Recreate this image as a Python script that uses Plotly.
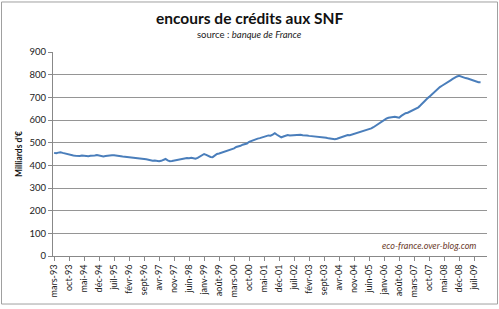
import plotly.graph_objects as go

month_names = ["janv", "févr", "mars", "avr", "mai", "juin",
               "juil", "août", "sept", "oct", "nov", "déc"]

# monthly values, mars-93 .. oct-09 (Milliards d'€)
values = [
    455, 453, 456, 458, 455, 452, 450, 447, 445, 443,            # 1993 (mars-déc)
    442, 440, 441, 443, 441, 439, 440, 442, 441, 443, 445, 442,  # 1994
    440, 439, 441, 443, 442, 444, 444, 442, 440, 441, 439, 438,  # 1995
    437, 438, 436, 435, 433, 432, 432, 430, 428, 427, 425, 422,  # 1996
    420, 421, 419, 418, 420, 424, 428, 422, 418, 419, 421, 424,  # 1997
    427, 429, 431, 430, 432, 431, 433, 431, 429, 433, 438, 444,  # 1998
    450, 446, 440, 437, 436, 442, 450, 452, 455, 458, 461, 464,  # 1999
    468, 472, 475, 481, 483, 486, 491, 494, 496, 504, 508, 510,  # 2000
    514, 518, 520, 524, 526, 529, 532, 531, 536, 542, 535, 527,  # 2001
    523, 527, 531, 534, 532, 533, 535, 536, 537, 535, 533, 534,  # 2002
    532, 530, 529, 528, 529, 527, 527, 525, 524, 522, 519, 517,  # 2003
    515, 515, 517, 520, 522, 525, 529, 534, 533, 536, 540, 542,  # 2004
    544, 547, 551, 552, 556, 558, 563, 568, 575, 582, 588, 594,  # 2005
    600, 606, 610, 612, 615, 614, 612, 610, 618, 624, 630, 632,  # 2006
    637, 641, 645, 651, 656, 665, 676, 684, 694, 702, 711, 719,  # 2007
    727, 737, 745, 751, 758, 762, 769, 775, 781, 788, 792, 795,  # 2008
    791, 787, 785, 783, 780, 776, 772, 769, 767, 767,            # 2009 (janv-oct)
]

# category labels
categories = []
m, y = 2, 93
for _ in range(len(values)):
    categories.append(f"{month_names[m]}-{y % 100:02d}")
    m += 1
    if m == 12:
        m = 0
        y += 1

tick_labels = categories[::7]

y_ticks = [0, 100, 200, 300, 400, 500, 600, 700, 800, 900]

FONT = "Lato"

fig = go.Figure()
fig.add_trace(go.Scatter(
    x=categories, y=values, mode="lines",
    line=dict(color="#4a7ebb", width=2),
    hoverinfo="skip",
))

L, R, T, B = 53, 12, 52, 51
W, H = 499, 309
pw, ph = W - L - R, H - T - B

def px(xp):
    return (xp - L) / pw

def py(yp):
    return (H - B - yp) / ph

fig.update_layout(
    width=W, height=H,
    margin=dict(l=L, r=R, t=T, b=B),
    paper_bgcolor="white", plot_bgcolor="white",
    showlegend=False,
    font=dict(family=FONT, color="#222222"),
    xaxis=dict(
        type="category",
        range=[-0.5, 202],
        tickmode="array", tickvals=tick_labels, ticktext=tick_labels,
        tickangle=-90, tickfont=dict(size=9, family=FONT, color="#222222"),
        showgrid=False, showline=True, linecolor="#888888", linewidth=1,
        ticks="outside", ticklen=4, tickcolor="#888888",
        zeroline=False, fixedrange=True,
    ),
    yaxis=dict(
        range=[0, 900], tickmode="array", tickvals=y_ticks,
        tickfont=dict(size=9.5, family=FONT, color="#222222"),
        showgrid=True, gridcolor="#959595", gridwidth=1,
        showline=True, linecolor="#888888", linewidth=1,
        ticks="outside", ticklen=4, tickcolor="#888888",
        zeroline=False, fixedrange=True,
        title=dict(text="<b>Milliards d'€</b>", font=dict(size=8.5, family=FONT, color="#111111"), standoff=5),
    ),
    annotations=[
        dict(text="<b>encours de crédits aux SNF</b>", xref="paper", yref="paper",
             x=px(249), y=py(18), xanchor="center", yanchor="middle",
             showarrow=False, font=dict(size=15.5, family=FONT, color="#111111")),
        dict(text="source : <i>banque de France</i>", xref="paper", yref="paper",
             x=px(249), y=py(34), xanchor="center", yanchor="middle",
             showarrow=False, font=dict(size=9.5, family=FONT, color="#222222")),
        dict(text="<i>eco-france.over-blog.com</i>", xref="paper", yref="paper",
             x=px(478), y=py(247), xanchor="right", yanchor="middle",
             showarrow=False, font=dict(size=9, family=FONT, color="#6b3a2a")),
    ],
    shapes=[
        dict(type="rect", xref="paper", yref="paper",
             x0=px(1.5), x1=px(497.5), y0=py(306.5), y1=py(1.5),
             line=dict(color="#a0a0a0", width=1), layer="below"),
    ],
)

fig.write_html("out.html")
